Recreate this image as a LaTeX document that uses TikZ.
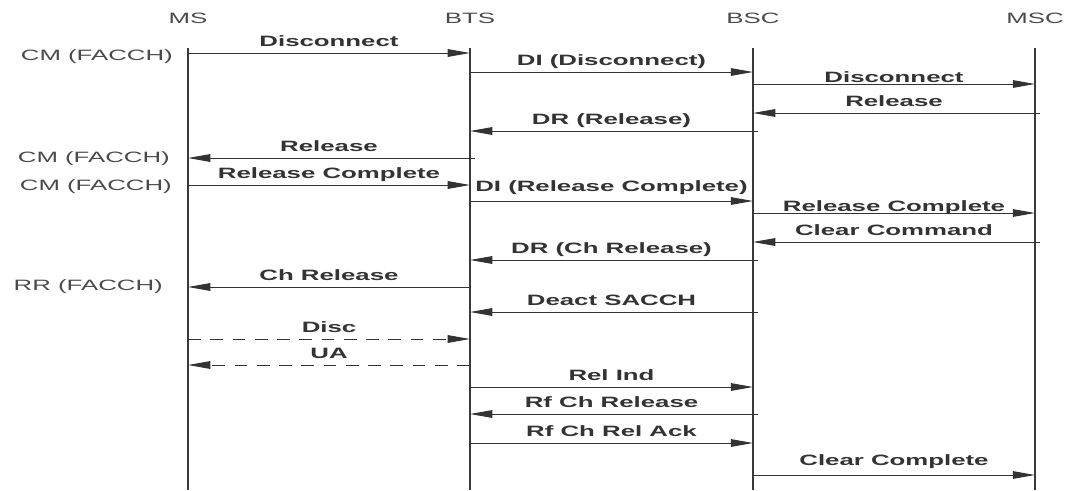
\documentclass[tikz,border=0pt]{standalone}
\usepackage{fontspec}
\setsansfont{Liberation Sans}[FakeStretch=1.72]
\usepackage{tikz}
\usetikzlibrary{arrows.meta}
\definecolor{lifegray}{HTML}{3A3A3A}
\definecolor{msggray}{HTML}{333333}
\definecolor{txtgray}{HTML}{4A4A4A}

\begin{document}
\begin{tikzpicture}[x=0.03cm, y=-0.03cm, >={Triangle[length=19pt,width=6.5pt]},
  ent/.style={font=\sffamily\fontsize{12.8}{14}\selectfont, text=txtgray, inner sep=0pt},
  side/.style={ent, anchor=east},
  life/.style={lifegray, line width=1.2pt},
  msg/.style={->, msggray, line width=0.8pt},
  over/.style={shorten <=-4pt},
  lbl/.style={font=\sffamily\bfseries\fontsize{12.8}{14}\selectfont, anchor=base, inner sep=0pt, yshift=5.5pt}]
  \useasboundingbox (0,0) rectangle (1067,490);
  % entities
  \node[ent] (ms) at (188,18) {MS};
  \node[ent] (bts) at (470,18) {BTS};
  \node[ent] (bsc) at (753,18) {BSC};
  \node[ent] (msc) at (1035,18) {MSC};
  \foreach \e in {ms,bts,bsc,msc}
    \draw[life] (\e |- 0,48) -- (\e |- 0,490);
  % channel notes on the left
  \node[side] (cm1) at (173,57) {CM (FACCH)};
  \node[side] (cm2) at (170,159) {CM (FACCH)};
  \node[side] (cm3) at (172,187) {CM (FACCH)};
  \node[side] (rr) at (163,287) {RR (FACCH)};
  % messages
  \draw[msg] (ms |- 0,53) -- node[lbl] {Disconnect} (bts |- 0,53);
  \draw[msg] (bts |- 0,72) -- node[lbl] {DI (Disconnect)} (bsc |- 0,72);
  \draw[msg] (bsc |- 0,84) -- node[lbl, yshift=-4pt] {Disconnect} (msc |- 0,84);
  \draw[msg, over] (msc |- 0,113) -- node[lbl] {Release} (bsc |- 0,113);
  \draw[msg, over] (bsc |- 0,131) -- node[lbl] {DR (Release)} (bts |- 0,131);
  \draw[msg, over] (bts |- 0,158) -- node[lbl] {Release} (ms |- 0,158);
  \draw[msg] (ms |- 0,185) -- node[lbl] {Release Complete} (bts |- 0,185);
  \draw[msg] (bts |- 0,201) -- node[lbl, yshift=2.5pt] {DI (Release Complete)} (bsc |- 0,201);
  \draw[msg] (bsc |- 0,213) -- node[lbl, yshift=-4pt] {Release Complete} (msc |- 0,213);
  \draw[msg, over] (msc |- 0,242) -- node[lbl] {Clear Command} (bsc |- 0,242);
  \draw[msg, over] (bsc |- 0,260) -- node[lbl] {DR (Ch Release)} (bts |- 0,260);
  \draw[msg] (bts |- 0,287) -- node[lbl] {Ch Release} (ms |- 0,287);
  \draw[msg, over] (bsc |- 0,312) -- node[lbl] {Deact SACCH} (bts |- 0,312);
  \draw[msg, dash pattern=on 11pt off 8pt] (ms |- 0,339) -- node[lbl] {Disc} (bts |- 0,339);
  \draw[msg, dash pattern=on 11pt off 8pt] (bts |- 0,365) -- node[lbl] {UA} (ms |- 0,365);
  \draw[msg] (bts |- 0,387) -- node[lbl] {Rel Ind} (bsc |- 0,387);
  \draw[msg, over] (bsc |- 0,414) -- node[lbl] {Rf Ch Release} (bts |- 0,414);
  \draw[msg] (bts |- 0,443) -- node[lbl] {Rf Ch Rel Ack} (bsc |- 0,443);
  \draw[msg] (bsc |- 0,475) -- node[lbl, yshift=2.5pt] {Clear Complete} (msc |- 0,475);
\end{tikzpicture}
\end{document}
